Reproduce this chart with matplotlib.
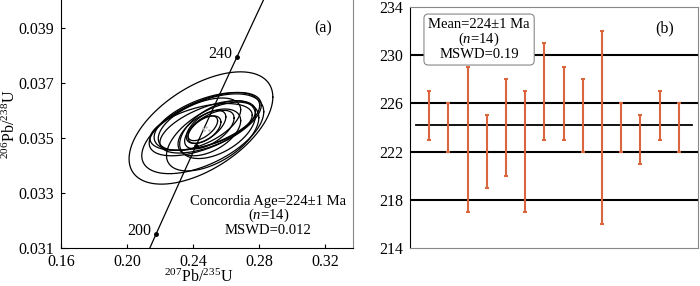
import numpy as np
import matplotlib.pyplot as plt

plt.rcParams['font.family'] = ['Liberation Serif', 'DejaVu Serif']
plt.rcParams['mathtext.fontset'] = 'custom'
plt.rcParams['mathtext.rm'] = 'Liberation Serif'
plt.rcParams['mathtext.it'] = 'Liberation Serif:italic'

# --- panel (a): concordia ellipses (centre, half-widths, correlation)
ell_x = [0.2449, 0.2460, 0.2475, 0.2485, 0.2450, 0.2520, 0.2490,
         0.2550, 0.2500, 0.2480, 0.2470, 0.2460, 0.2500, 0.2440]
ell_y = [0.03536, 0.03515, 0.03550, 0.03560, 0.03540, 0.03505, 0.03540,
         0.03530, 0.03530, 0.03540, 0.03530, 0.03535, 0.03520, 0.03550]
ell_dx = [0.0436, 0.0370, 0.0340, 0.0320, 0.0310, 0.0280, 0.0290,
          0.0230, 0.0150, 0.0120, 0.0100, 0.0090, 0.0190, 0.0250]
ell_dy = [0.00204, 0.00145, 0.00115, 0.00105, 0.00085, 0.00125, 0.00095,
          0.00105, 0.00070, 0.00060, 0.00050, 0.00045, 0.00085, 0.00095]
ell_rho = [0.55, 0.55, 0.60, 0.55, 0.50, 0.55, 0.60,
           0.50, 0.60, 0.60, 0.55, 0.60, 0.50, 0.55]

conc_ages = [200, 220, 240]
conc_labels = ['200', '', '240']

# --- panel (b): weighted mean ages
ages_lo = [223, 222, 217, 219, 220, 217, 223, 223, 222, 216, 222, 221, 223, 222]
ages_hi = [227, 226, 229, 225, 228, 227, 231, 229, 228, 232, 226, 225, 227, 226]
mean_age = 224.2
grid_ages = [218, 222, 226, 230]

L238 = 1.55125e-10
L235 = 9.8485e-10


def concordia(t_ma):
    t = np.asarray(t_ma) * 1e6
    return np.exp(L235 * t) - 1, np.exp(L238 * t) - 1


fig = plt.figure(figsize=(7, 2.86), dpi=100)

ax = fig.add_axes([0.0871, 0.1329, 0.4169, 0.8661])
tt = np.linspace(180, 270, 200)
cx, cy = concordia(tt)
ax.plot(cx, cy, color='black', lw=0.9)
mx, my = concordia(conc_ages)
ax.plot(mx, my, 'o', color='black', ms=2.5)
for x, y, lab in zip(mx, my, conc_labels):
    if lab:
        ax.text(x - 0.003, y + 0.00012, lab, ha='right', va='center',
                fontsize=11.5)

th = np.linspace(0, 2 * np.pi, 300)
for x0, y0, dx, dy, r in zip(ell_x, ell_y, ell_dx, ell_dy, ell_rho):
    phi = np.arccos(r)
    ax.plot(x0 + dx * np.cos(th), y0 + dy * np.cos(th + phi),
            color='black', lw=0.9)
ax.plot(ell_x[8:12], ell_y[8:12], '.', color='#bbbbbb', ms=1.5)

ax.set_xlim(0.16, 0.337)
ax.set_ylim(0.031, 0.040)
ax.set_xticks([0.16, 0.20, 0.24, 0.28, 0.32])
ax.set_yticks([0.031, 0.033, 0.035, 0.037, 0.039])
ax.xaxis.set_major_formatter(plt.FormatStrFormatter('%.2f'))
ax.yaxis.set_major_formatter(plt.FormatStrFormatter('%.3f'))
ax.tick_params(direction='in', length=3, labelsize=11.5)
ax.tick_params(axis='x', pad=4)
ax.tick_params(axis='y', pad=5)
ax.spines['top'].set_visible(False)
ax.spines['right'].set_color('#888888')
ax.set_xlabel(r'$^{207}$Pb/$^{235}$U', fontsize=11.5, labelpad=0)
ax.set_ylabel(r'$^{206}$Pb/$^{238}$U', fontsize=11.5)
ax.yaxis.set_label_coords(-0.145, 0.5)
ax.xaxis.set_label_coords(0.47, -0.085)
ax.text(0.897, 0.887, '(a)', transform=ax.transAxes, ha='center', va='center',
        fontsize=11.5)
ax.text(0.71, 0.13, 'Concordia Age=224±1 Ma\n($n$=14)\nMSWD=0.012',
        transform=ax.transAxes, ha='center', va='center', fontsize=10.5,
        linespacing=0.95)

# --- panel (b)
bx = fig.add_axes([0.5857, 0.1329, 0.4113, 0.8426])
n = np.arange(1, len(ages_lo) + 1)
for g in grid_ages:
    bx.axhline(g, color='black', lw=1.5, zorder=1)
bx.plot([0.3, 14.7], [mean_age, mean_age], color='black', lw=1.3, zorder=1)
mid = (np.array(ages_lo) + np.array(ages_hi)) / 2
half = (np.array(ages_hi) - np.array(ages_lo)) / 2
bx.errorbar(n, mid, yerr=half, fmt='none', ecolor='#d9663e', elinewidth=1.5,
            capsize=1.5, capthick=1.5, zorder=2)
bx.set_xlim(0, 15)
bx.set_ylim(214, 234)
bx.set_xticks([])
bx.set_yticks([214, 218, 222, 226, 230, 234])
bx.tick_params(axis='y', length=0, labelsize=11.5, pad=5)
for s in ['top', 'right', 'bottom']:
    bx.spines[s].set_color('#888888')
bx.text(0.885, 0.913, '(b)', transform=bx.transAxes, ha='center', va='center',
        fontsize=11.5)
bx.text(0.24, 0.865, 'Mean=224±1 Ma\n($n$=14)\nMSWD=0.19', transform=bx.transAxes,
        ha='center', va='center', fontsize=10.5, linespacing=0.95,
        bbox=dict(boxstyle='round,pad=0.3', fc='white', ec='#888888', lw=0.8))

fig.savefig('out.png', dpi=100)
